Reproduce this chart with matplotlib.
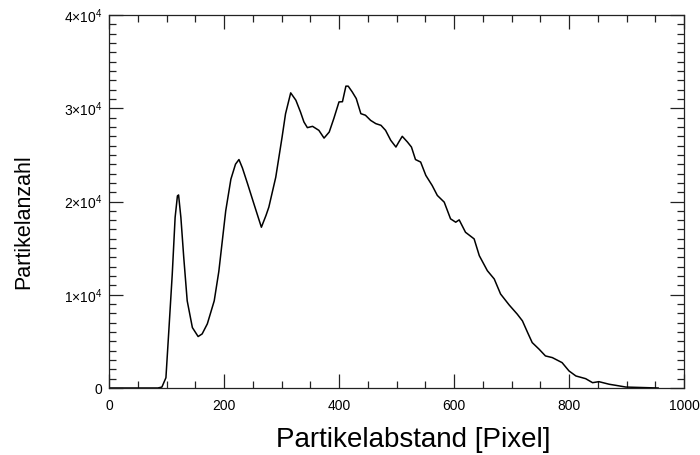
import matplotlib
matplotlib.use("Agg")
import matplotlib.pyplot as plt
from matplotlib.ticker import MultipleLocator, FixedLocator, FixedFormatter

plt.rcParams['font.family'] = ['Liberation Sans', 'DejaVu Sans']
plt.rcParams['mathtext.fontset'] = 'custom'
plt.rcParams['mathtext.rm'] = 'Liberation Sans'
plt.rcParams['mathtext.it'] = 'Liberation Sans'

# Data
distance = [0, 85, 92, 99, 104, 110, 115, 119, 121, 125, 130, 136, 145, 155, 162,
            171, 183, 191, 203, 212, 220, 226, 232, 241, 252, 265, 273, 278, 290,
            301, 307, 316, 325, 333, 339, 345, 354, 365, 374, 383, 391, 400, 406,
            412, 416, 423, 430, 438, 446, 455, 464, 473, 481, 490, 499, 504, 510,
            519, 526, 533, 542, 551, 562, 571, 583, 594, 603, 609, 620, 635, 644,
            658, 670, 681, 696, 710, 719, 728, 736, 748, 759, 771, 788, 800, 812,
            829, 841, 852, 870, 881, 899, 927, 955]
counts = [0, 0, 100, 1100, 6100, 12200, 18300, 20600, 20700, 18300, 14000, 9350,
          6480, 5520, 5800, 6880, 9350, 12500, 19000, 22400, 24000, 24500, 23600,
          21900, 19750, 17240, 18500, 19400, 22600, 26900, 29400, 31650, 30860,
          29600, 28530, 27920, 28060, 27630, 26800, 27450, 28900, 30680, 30700,
          32370, 32370, 31750, 31040, 29420, 29250, 28700, 28350, 28170, 27630,
          26560, 25840, 26380, 26990, 26380, 25840, 24500, 24230, 22800, 21720,
          20650, 19930, 18140, 17780, 18030, 16700, 15990, 14190, 12580, 11690,
          10080, 8900, 7920, 7200, 5950, 4870, 4160, 3440, 3260, 2720, 1830, 1290,
          1000, 570, 680, 400, 290, 100, 50, 0]

x_ticks = [0, 200, 400, 600, 800, 1000]
x_ticklabels = ['0', '200', '400', '600', '800', '1000']
y_ticks = [0, 10000, 20000, 30000, 40000]
y_ticklabels = ['0', r'$1{\times}10^4$', r'$2{\times}10^4$', r'$3{\times}10^4$', r'$4{\times}10^4$']

fig = plt.figure(figsize=(7, 4.55), dpi=100)
ax = fig.add_axes([109/700, 67/455, 575/700, 373/455])
ax.plot(distance, counts, color='black', lw=1.1)

ax.set_xlim(0, 1000)
ax.set_ylim(0, 40000)
ax.xaxis.set_major_locator(FixedLocator(x_ticks))
ax.xaxis.set_major_formatter(FixedFormatter(x_ticklabels))
ax.yaxis.set_major_locator(FixedLocator(y_ticks))
ax.yaxis.set_major_formatter(FixedFormatter(y_ticklabels))
ax.xaxis.set_minor_locator(MultipleLocator(50))
ax.yaxis.set_minor_locator(MultipleLocator(1000))

ax.tick_params(which='both', direction='in', top=True, right=True,
               color='#222222', width=0.9, labelsize=10, labelcolor='black')
ax.tick_params(which='major', length=10, pad=5)
ax.tick_params(which='minor', length=5)
ax.tick_params(axis='x', which='major', pad=8)
for s in ax.spines.values():
    s.set_linewidth(0.9)
    s.set_color('#222222')

fig.text(413/700, 1 - 447/455, 'Partikelabstand [Pixel]', fontsize=20,
         ha='center', va='baseline')
fig.text(24/700, 1 - 222/455, 'Partikelanzahl', fontsize=15.5, rotation=90,
         ha='center', va='center')

fig.savefig('out.png', dpi=100)
